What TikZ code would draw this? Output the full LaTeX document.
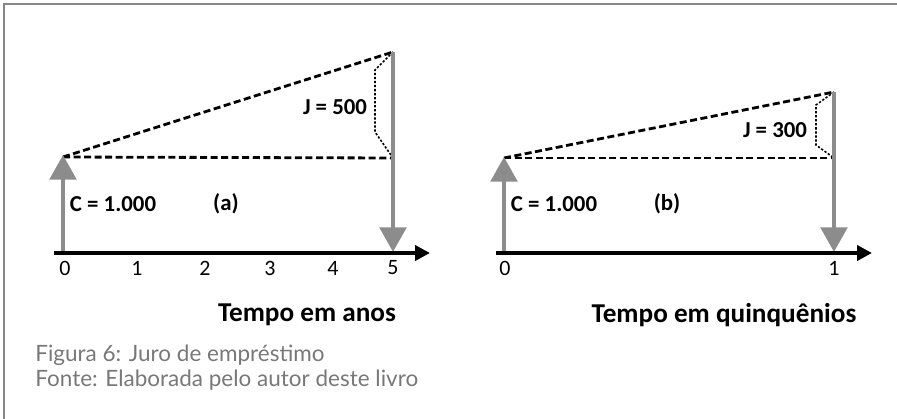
\documentclass[tikz,border=0pt]{standalone}
\usepackage{fontspec}
\setmainfont{Carlito}
\newfontfamily\capfont{Lato}
\usetikzlibrary{arrows.meta, positioning}
\definecolor{flowgray}{RGB}{140,140,140}
\definecolor{framegray}{RGB}{135,135,135}
\definecolor{capgray}{RGB}{120,120,120}

\begin{document}
\begin{tikzpicture}[x=0.02cm, y=-0.02cm,
    flow/.style={line width=2.4pt, draw=flowgray, -{Triangle[width=15pt, length=14pt, fill=flowgray]}},
    axis/.style={line width=2.3pt, -{Triangle[width=8.5pt, length=8.5pt]}},
    slope/.style={line width=1.6pt, dash pattern=on 4pt off 2pt},
    brace/.style={line width=0.9pt, dash pattern=on 1.3pt off 1pt},
    lbl/.style={font=\bfseries\fontsize{13}{15}\selectfont, inner sep=0pt},
    title/.style={font=\bfseries\fontsize{15.5}{18}\selectfont, inner sep=0pt},
    tick/.style={font=\fontsize{12.5}{14}\selectfont, inner sep=0pt},
    caption/.style={font=\capfont\fontsize{12.8}{15}\selectfont, text=capgray, inner sep=0pt, anchor=base west}]
    \useasboundingbox (0,0) rectangle (897,419);
    \draw[framegray, line width=1.4pt] (4,419) -- (4,4) -- (897,4);

    % (a) years
    \coordinate (aS) at (54,253);
    \coordinate (aE) at (430,253);
    \coordinate (a0) at (63,253);
    \coordinate (aC) at (63,155);
    \coordinate (aL) at (63,157);
    \coordinate (aF) at (393,52);
    \coordinate (aH) at (393,158);
    \coordinate (a5) at (393,252);

    \draw[slope] (aL) -- (aF);
    \draw[slope] (aL) -- (aH);
    \draw[brace] (aF) -- (375,70) -- (375,132) -- (aH);
    \draw[flow] (a0) -- (aC);
    \draw[flow] (aF) -- (a5);
    \draw[axis] (aS) -- (aE);

    \node[lbl] (aJ) at (335,107) {J = 500};
    \node[lbl] (aCap) at (113,204) {C = 1.000};
    \node[lbl] (aTag) at (226,204) {(a)};
    \foreach \n/\x in {0/65, 1/137, 2/205, 3/270, 4/333, 5/393}
      \node[tick] (at\n) at (\x,268) {\n};
    \node[title] (aT) at (307,315) {Tempo em anos};

    % (b) quinquennia
    \coordinate (bS) at (496,253);
    \coordinate (bE) at (872,253);
    \coordinate (b0) at (504,253);
    \coordinate (bC) at (504,157);
    \coordinate (bL) at (504,158);
    \coordinate (bF) at (834,92);
    \coordinate (bH) at (834,158);
    \coordinate (b1) at (834,252);

    \draw[slope] (bL) -- (bF);
    \draw[slope] (bL) -- (bH);
    \draw[brace] (bF) -- (816,105) -- (816,145) -- (bH);
    \draw[flow] (b0) -- (bC);
    \draw[flow] (bF) -- (b1);
    \draw[axis] (bS) -- (bE);

    \node[lbl] (bJ) at (775,130) {J = 300};
    \node[lbl] (bCap) at (554,204) {C = 1.000};
    \node[lbl] (bTag) at (667,204) {(b)};
    \node[tick] (bt0) at (505,268) {0};
    \node[tick] (bt1) at (834,268) {1};
    \node[title] (bT) at (724,315) {Tempo em quinquênios};

    \node[caption] (fig) at (35,361) {Figura 6: Juro de empréstimo};
    \node[caption] (src) at (35,386) {Fonte: Elaborada pelo autor deste livro};
\end{tikzpicture}
\end{document}
